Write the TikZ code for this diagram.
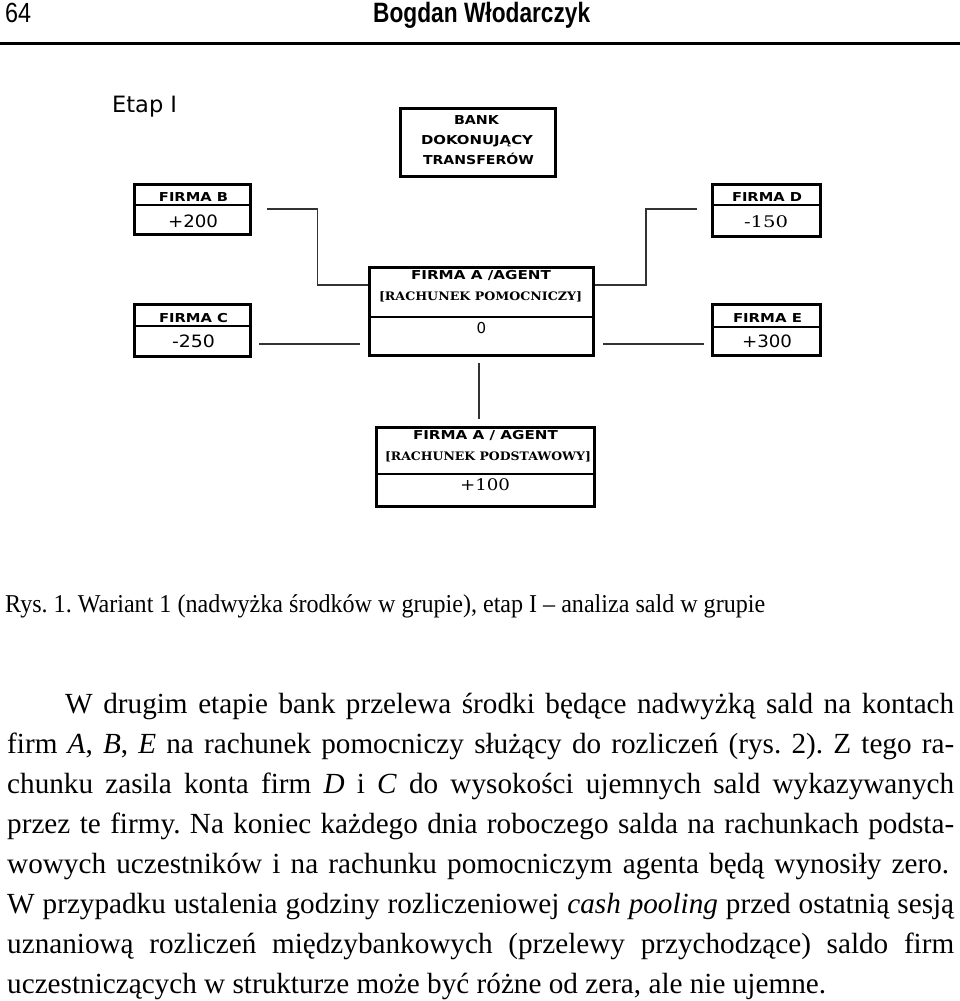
\documentclass[tikz,border=0pt]{standalone}
\usepackage{fontspec}
\usepackage{graphicx}
\setmainfont{Liberation Serif}
\newfontfamily\hdrfont{Liberation Sans}
\newfontfamily\dvsans{DejaVu Sans}
\newfontfamily\dvserif{DejaVu Serif}
\usetikzlibrary{calc}
\frenchspacing
\newsavebox\jlinebox
\newcommand\fitw[2]{\resizebox{#1}{\height}{#2}}
\newcommand\jline[2]{\sbox\jlinebox{#2}\ifdim\wd\jlinebox>#1\relax\resizebox{#1}{\height}{\usebox\jlinebox}\else\hbox to #1{#2}\fi}
\tikzset{
  box/.style={draw, line width=3pt, inner sep=0pt},
  txt/.style={inner sep=0pt, anchor=base},
  lbl/.style={txt, font=\dvsans\bfseries\fontsize{12.3}{14}\selectfont},
  lbls/.style={txt, font=\dvserif\bfseries\fontsize{11.7}{14}\selectfont},
  val/.style={txt, font=\dvsans\fontsize{17}{20}\selectfont},
  vals/.style={txt, font=\dvserif\fontsize{16}{20}\selectfont},
  conn/.style={line width=1.3pt, draw=black!80},
  divider/.style={line width=1.2pt},
  body/.style={inner sep=0pt, anchor=base west, font=\frenchspacing\fontsize{29.2}{40}\selectfont},
}
\begin{document}
\begin{tikzpicture}[x=1pt,y=-1pt]
\useasboundingbox (0,0) rectangle (960,1001);
% header
\node[txt, anchor=base west, font=\hdrfont\fontsize{27.7}{30}\selectfont] (pg) at (5,23) {\fitw{26pt}{64}};
\node[txt, anchor=base west, font=\hdrfont\bfseries\fontsize{28}{30}\selectfont] (au) at (373,23) {\fitw{217pt}{Bogdan Włodarczyk}};
\draw[line width=3.5pt] (0,43.5) -- (960,43.5);
% diagram
\node[txt, anchor=base west, font=\dvsans\fontsize{22.5}{26}\selectfont] (etap) at (112,112) {Etap I};
% bank
\node[box, minimum width=155pt, minimum height=68pt] (bank) at (478,142.5) {};
\node[lbl] (bank1) at (476.5,124.5) {\fitw{45pt}{BANK}};
\node[lbl] (bank2) at (477,144.5) {\fitw{112pt}{DOKONUJĄCY}};
\node[lbl] (bank3) at (478.5,164.5) {\fitw{111pt}{TRANSFERÓW}};
% firm B
\node[box, minimum width=116pt, minimum height=50pt] (B) at (192.5,209.5) {};
\draw[divider] (B.west |- 0,205) -- (B.east |- 0,205);
\node[lbl] (Bl) at (193.5,201.5) {\fitw{69pt}{FIRMA B}};
\node[val] (Bv) at (193,227) {\fitw{50pt}{+200}};
% firm D
\node[box, minimum width=108pt, minimum height=52pt] (D) at (766.5,210.5) {};
\draw[divider] (D.west |- 0,205) -- (D.east |- 0,205);
\node[lbl] (Dl) at (767,201.5) {\fitw{70pt}{FIRMA D}};
\node[vals] (Dv) at (766,227) {\fitw{44pt}{-150}};
% firm C
\node[box, minimum width=116pt, minimum height=52pt] (C) at (192.5,330.5) {};
\draw[divider] (C.west |- 0,326) -- (C.east |- 0,326);
\node[lbl] (Cl) at (193.5,322.5) {\fitw{69pt}{FIRMA C}};
\node[val] (Cv) at (193.5,347) {\fitw{43pt}{-250}};
% firm E
\node[box, minimum width=108pt, minimum height=51pt] (E) at (766.5,330) {};
\draw[divider] (E.west |- 0,327) -- (E.east |- 0,327);
\node[lbl] (El) at (767.5,322.5) {\fitw{69pt}{FIRMA E}};
\node[val] (Ev) at (767,347) {\fitw{50pt}{+300}};
% agent auxiliary
\node[box, minimum width=224pt, minimum height=88pt] (agent) at (481.5,311.5) {};
\draw[divider] (agent.west |- 0,317) -- (agent.east |- 0,317);
\node[lbl] (ag1) at (481,279.5) {\fitw{140pt}{FIRMA A /AGENT}};
\node[lbls] (ag2) at (480.5,300.5) {\fitw{203pt}{[RACHUNEK POMOCNICZY]}};
\node[val, font=\dvsans\fontsize{15}{16}\selectfont] (ag3) at (481.5,333.5) {0};
% agent base
\node[box, minimum width=218pt, minimum height=79pt] (base) at (485.5,467) {};
\draw[divider] (base.west |- 0,474) -- (base.east |- 0,474);
\node[lbl] (ba1) at (485.5,439.5) {\fitw{145pt}{FIRMA A / AGENT}};
\node[lbls] (ba2) at (488,460.5) {\fitw{206pt}{[RACHUNEK PODSTAWOWY]}};
\node[vals] (ba3) at (485,490) {\fitw{50pt}{+100}};
% connectors
\coordinate (bs) at ($(B.east)+(15,-0.5)$);
\coordinate (aw) at ($(agent.north west)+(0,19)$);
\draw[conn] (bs) -| ($(bs)!0.5!(aw)$) |- (aw);
\coordinate (ds) at ($(D.west)+(-14,-1.5)$);
\coordinate (ae) at ($(agent.north east)+(0,19)$);
\draw[conn] (ds) -| ($(ds)!0.5!(ae)$) |- (ae);
\coordinate (cs) at ($(C.east)+(7,13.5)$);
\coordinate (cw) at ($(agent.west)+(-8,32.5)$);
\draw[conn] (cs) -- (cw);
\coordinate (es) at ($(E.west)+(-7,14)$);
\coordinate (ee) at ($(agent.east)+(8,32.5)$);
\draw[conn] (es) -- (ee);
\coordinate (vs) at ($(agent.south)+(-2.5,6)$);
\coordinate (ve) at ($(base.north)+(-6.5,-7)$);
\draw[conn] (vs) -- (ve);
% caption
\node[txt, anchor=base west, font=\fontsize{25.7}{30}\selectfont] (cap) at (5,612) {\fitw{760pt}{Rys. 1. Wariant 1 (nadwyżka środków w grupie), etap I – analiza sald w grupie}};
% body text
\node[body] (l1) at (65,713) {\jline{889pt}{W drugim etapie bank przelewa środki będące nadwyżką sald na kontach}};
\node[body] (l2) at (7,753) {\jline{947pt}{firm \textit{A}, \textit{B}, \textit{E} na rachunek pomocniczy służący do rozliczeń (rys. 2). Z tego ra-}};
\node[body] (l3) at (7,793) {\jline{947pt}{chunku zasila konta firm \textit{D} i \textit{C} do wysokości ujemnych sald wykazywanych}};
\node[body] (l4) at (7,833) {\jline{947pt}{przez te firmy. Na koniec każdego dnia roboczego salda na rachunkach podsta-}};
\node[body] (l5) at (7,873) {\jline{942pt}{wowych uczestników i na rachunku pomocniczym agenta będą wynosiły zero.}};
\node[body] (l6) at (7,913) {\jline{947pt}{W przypadku ustalenia godziny rozliczeniowej \textit{cash pooling} przed ostatnią sesją}};
\node[body] (l7) at (7,953) {\jline{947pt}{uznaniową rozliczeń międzybankowych (przelewy przychodzące) saldo firm}};
\node[body] (l8) at (7,993) {uczestniczących w strukturze może być różne od zera, ale nie ujemne.};
\end{tikzpicture}
\end{document}
